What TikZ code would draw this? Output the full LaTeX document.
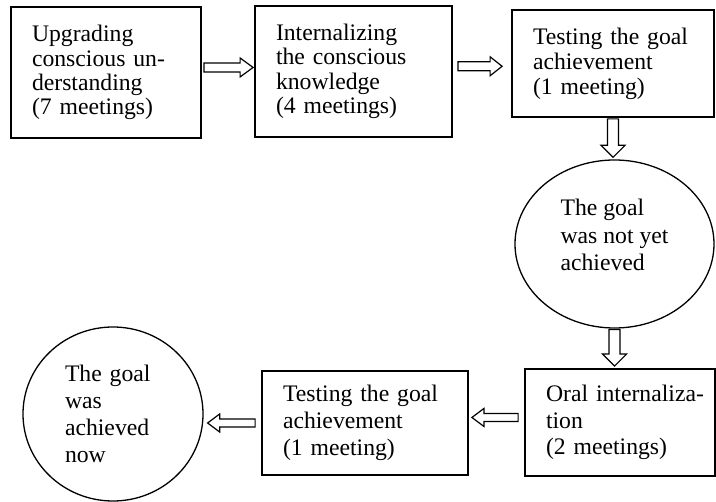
\documentclass[tikz,border=0pt]{standalone}
\usepackage{fontspec}
\setmainfont{Liberation Serif}
\usetikzlibrary{shapes.geometric,calc}
\hyphenpenalty=10000
\exhyphenpenalty=10000
\tikzset{
  txt/.style={font=\fontsize{23.7}{#1}\selectfont},
  boxnode/.style={draw, rectangle, line width=1.8pt, inner xsep=21pt, inner ysep=0pt, align=left},
  ellnode/.style={draw, ellipse, line width=1.3pt, inner sep=0pt, align=left},
  arrowline/.style={draw, fill=white, line width=1.2pt, line join=miter}
}
% #1 start, #2 target, #3 start gap, #4 tip gap, #5 head-base gap, #6 shaft half width, #7 head half width
\newcommand{\hollowarrow}[7]{%
  \path[arrowline]
    ($(#1)!#3!(#2)!#6!90:(#2)$) --
    ($(#2)!#5!(#1)!#6!90:(#2)$) --
    ($(#2)!#5!(#1)!#7!90:(#2)$) --
    ($(#2)!#4!(#1)$) --
    ($(#2)!#5!(#1)!#7!-90:(#2)$) --
    ($(#2)!#5!(#1)!#6!-90:(#2)$) --
    ($(#1)!#3!(#2)!#6!-90:(#2)$) -- cycle;}
\begin{document}
\begin{tikzpicture}[x=1pt,y=-1pt]
\useasboundingbox (0,0) rectangle (716,502);

\node[boxnode, txt=24.3, minimum width=190pt, minimum height=131pt, text width=148pt] (b1) at (106,72.5)
  {Upgrading\\conscious~un-\\derstanding\\(7~meetings)};
\node[boxnode, txt=24.5, minimum width=197pt, minimum height=131pt, text width=155pt] (b2) at (353.5,71.5)
  {Internalizing\\the~conscious\\knowledge\\(4~meetings)};
\node[boxnode, txt=25, minimum width=202pt, minimum height=107pt, text width=160pt] (b3) at (613,63.5)
  {Testing~the~goal\\achievement\\(1~meeting)};
\node[ellnode, txt=27.5, minimum width=199pt, minimum height=168pt, text depth=18pt] (e1) at (614.5,244)
  {The~goal\\was~not~yet\\achieved};
\node[boxnode, txt=26.5, minimum width=190pt, minimum height=107pt, text width=148pt] (b4) at (620,422.5)
  {Oral~internaliza-\\tion\\(2~meetings)};
\node[boxnode, txt=27, minimum width=206pt, minimum height=104pt, text width=164pt] (b5) at (365,423)
  {Testing~the~goal\\achievement\\(1~meeting)};
\node[ellnode, txt=27, minimum width=180pt, minimum height=174pt, text width=96pt] (e2) at (113,414)
  {The~goal\\was\\achieved\\now};

\coordinate (a1s) at (b1.3);
\coordinate (a1t) at (b1.3 -| b2.west);
\coordinate (a2s) at (b2.3);
\coordinate (a2t) at (b2.3 -| b3.west);
\coordinate (a3s) at (b3.south);
\coordinate (a3t) at (b3.south |- e1.north);
\coordinate (a4s) at (e1.south);
\coordinate (a4t) at (e1.south |- b4.north);
\coordinate (a5s) at (b4.177);
\coordinate (a5t) at (b4.177 -| b5.east);
\coordinate (a6s) at (b5.west);
\coordinate (a6t) at (b5.west -| e2.east);

\hollowarrow{a1s}{a1t}{2pt}{1pt}{14pt}{4.5pt}{9.5pt}
\hollowarrow{a2s}{a2t}{5pt}{9pt}{21pt}{4.5pt}{9.5pt}
\hollowarrow{a3s}{a3t}{1pt}{2pt}{14pt}{5.5pt}{12pt}
\hollowarrow{a4s}{a4t}{1pt}{2pt}{14pt}{5.5pt}{12pt}
\hollowarrow{a5s}{a5t}{6pt}{3pt}{15pt}{4pt}{9pt}
\hollowarrow{a6s}{a6t}{6pt}{4pt}{16pt}{4pt}{9pt}
\end{tikzpicture}
\end{document}
